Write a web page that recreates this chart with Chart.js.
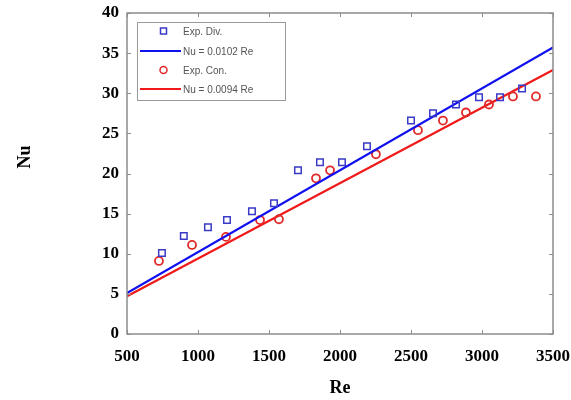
<!DOCTYPE html>
<html>
<head>
<meta charset="utf-8">
<script src="https://cdn.jsdelivr.net/npm/chart.js@4/dist/chart.umd.min.js"></script>
<style>
  html, body { margin: 0; padding: 0; background: #fff; }
  #wrap { width: 571px; height: 400px; }
</style>
</head>
<body>
<div id="wrap"><canvas id="nuChart" width="571" height="400"></canvas></div>
<script>
// measured points
const reDiv = [746, 900, 1070, 1204, 1380, 1535, 1704, 1859, 2014, 2190, 2500, 2655, 2817, 2979, 3127, 3282];
const nuDiv = [10.1, 12.2, 13.3, 14.2, 15.3, 16.3, 20.4, 21.4, 21.4, 23.4, 26.6, 27.5, 28.6, 29.5, 29.5, 30.6];
const reCon = [725, 958, 1197, 1437, 1570, 1831, 1930, 2253, 2549, 2725, 2887, 3049, 3218, 3380];
const nuCon = [9.1, 11.1, 12.1, 14.2, 14.3, 19.4, 20.4, 22.4, 25.4, 26.6, 27.6, 28.6, 29.6, 29.6];

// fit lines (end points)
const fitRe = [500, 3500];
const fitDiv = [5.1, 35.7];
const fitCon = [4.7, 32.9];

const seriesLabels = ['Exp. Div.', 'Nu = 0.0102 Re', 'Exp. Con.', 'Nu = 0.0094 Re'];
const xTicks = [500, 1000, 1500, 2000, 2500, 3000, 3500];
const yTicks = [0, 5, 10, 15, 20, 25, 30, 35, 40];

const toPts = (xs, ys) => xs.map((x, i) => ({ x: x, y: ys[i] }));

const BLUE_PT = '#3a3ac8';
const BLUE_LN = '#1010f0';
const RED_PT = '#e02a2a';
const RED_LN = '#f01818';

// frame, inward ticks, axis titles
const framePlugin = {
  id: 'frame',
  afterDatasetsDraw(chart) {
    const { ctx, chartArea: a, scales } = chart;
    ctx.save();
    ctx.strokeStyle = '#8c8c8c';
    ctx.lineWidth = 1.5;
    ctx.strokeRect(a.left, a.top, a.right - a.left, a.bottom - a.top);
    ctx.lineWidth = 1;
    ctx.beginPath();
    xTicks.forEach(v => {
      const px = Math.round(scales.x.getPixelForValue(v)) + 0.5;
      ctx.moveTo(px, a.bottom); ctx.lineTo(px, a.bottom - 4);
      ctx.moveTo(px, a.top); ctx.lineTo(px, a.top + 4);
    });
    yTicks.forEach(v => {
      const py = Math.round(scales.y.getPixelForValue(v)) + 0.5;
      ctx.moveTo(a.left, py); ctx.lineTo(a.left + 4, py);
      ctx.moveTo(a.right, py); ctx.lineTo(a.right - 4, py);
    });
    ctx.stroke();

    // axis titles
    ctx.fillStyle = '#000';
    ctx.font = 'bold 18px "Liberation Serif"';
    ctx.textAlign = 'center';
    ctx.textBaseline = 'middle';
    ctx.fillText('Re', (a.left + a.right) / 2, 388);
    ctx.translate(25, 157);
    ctx.rotate(-Math.PI / 2);
    ctx.fillText('Nu', 0, 0);
    ctx.restore();
  }
};

// legend box in the upper left corner
const legendPlugin = {
  id: 'boxLegend',
  afterDraw(chart) {
    const { ctx } = chart;
    const bx = 137, by = 22, bw = 148, bh = 78;
    ctx.save();
    ctx.fillStyle = '#fff';
    ctx.fillRect(bx, by, bw, bh);
    ctx.strokeStyle = '#9a9a9a';
    ctx.lineWidth = 1;
    ctx.strokeRect(bx + 0.5, by + 0.5, bw, bh);
    const rows = [31, 51, 70, 89];
    chart.data.datasets.forEach((ds, i) => {
      const y = rows[i];
      if (ds.showLine) {
        ctx.strokeStyle = ds.borderColor;
        ctx.lineWidth = 2;
        ctx.beginPath();
        ctx.moveTo(140, y); ctx.lineTo(181, y);
        ctx.stroke();
      } else {
        ctx.strokeStyle = ds.borderColor;
        ctx.lineWidth = 1.5;
        ctx.beginPath();
        if (ds.pointStyle === 'rect') {
          ctx.rect(160.5, y - 3, 6, 6);
        } else {
          ctx.arc(163.5, y, 3.5, 0, Math.PI * 2);
        }
        ctx.stroke();
      }
      ctx.fillStyle = '#555';
      ctx.font = '10px "Liberation Sans"';
      ctx.textAlign = 'left';
      ctx.textBaseline = 'middle';
      ctx.fillText(ds.label, 183, y + 1);
    });
    ctx.restore();
  }
};

new Chart(document.getElementById('nuChart'), {
  type: 'scatter',
  data: {
    datasets: [
      {
        label: seriesLabels[0],
        data: toPts(reDiv, nuDiv),
        pointStyle: 'rect',
        pointRadius: 4.6,
        borderColor: BLUE_PT,
        backgroundColor: 'rgba(0,0,0,0)',
        borderWidth: 1.5,
        showLine: false
      },
      {
        label: seriesLabels[1],
        data: toPts(fitRe, fitDiv),
        showLine: true,
        pointRadius: 0,
        borderColor: BLUE_LN,
        borderWidth: 2.2
      },
      {
        label: seriesLabels[2],
        data: toPts(reCon, nuCon),
        pointStyle: 'circle',
        pointRadius: 4,
        borderColor: RED_PT,
        backgroundColor: 'rgba(0,0,0,0)',
        borderWidth: 1.8,
        showLine: false
      },
      {
        label: seriesLabels[3],
        data: toPts(fitRe, fitCon),
        showLine: true,
        pointRadius: 0,
        borderColor: RED_LN,
        borderWidth: 2.2
      }
    ]
  },
  options: {
    responsive: false,
    animation: false,
    layout: { padding: { left: 0, right: 18, top: 13, bottom: 0 } },
    plugins: {
      legend: { display: false },
      tooltip: { enabled: false }
    },
    scales: {
      x: {
        type: 'linear',
        min: 500,
        max: 3500,
        afterBuildTicks: (s) => { s.ticks = xTicks.map(v => ({ value: v })); },
        afterFit: (s) => {
          s.height = 66;
          s.paddingLeft = 0;
          s.paddingRight = 0;
        },
        grid: { display: false, drawTicks: false },
        border: { display: false },
        ticks: {
          padding: 12,
          color: '#000',
          font: { family: 'Liberation Serif', size: 17, weight: 'bold' },
          maxRotation: 0,
          callback: (v) => String(v)
        }
      },
      y: {
        min: 0,
        max: 40,
        afterBuildTicks: (s) => { s.ticks = yTicks.map(v => ({ value: v })); },
        afterFit: (s) => {
          s.width = 127;
          s.paddingTop = 0;
          s.paddingBottom = 0;
        },
        grid: { display: false, drawTicks: false },
        border: { display: false },
        ticks: {
          padding: 8,
          color: '#000',
          font: { family: 'Liberation Serif', size: 17, weight: 'bold' }
        }
      }
    }
  },
  plugins: [framePlugin, legendPlugin]
});
</script>
</body>
</html>
